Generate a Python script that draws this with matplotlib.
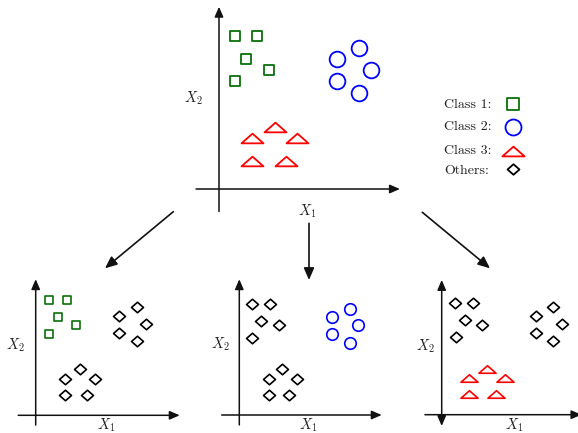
"""
One-vs-rest sketch: the full 3-class problem on top, three binary views below.
"""
import matplotlib
matplotlib.use("Agg")
import matplotlib.pyplot as plt
from matplotlib.patches import FancyArrowPatch
from matplotlib.path import Path

W, H = 578, 433
plt.rcParams["mathtext.fontset"] = "cm"

GREEN = "#0b700b"
BLUE = "#0000ff"
RED = "#ff0000"
INK = "#111111"

# --- data (local panel units) ---
# top panel: all classes
top_c1_x = [0.72, 1.70, 1.22, 2.22, 0.72]
top_c1_y = [6.80, 6.80, 5.78, 5.29, 4.78]
top_c2_x = [5.23, 6.24, 6.76, 5.23, 6.24]
top_c2_y = [5.76, 6.28, 5.28, 4.80, 4.28]
top_c3_x = [2.49, 1.48, 3.48, 1.48, 2.99]
top_c3_y = [2.77, 2.25, 2.25, 1.24, 1.24]

# class 1 vs rest
bl_c1_x = [0.75, 1.75, 1.25, 2.25, 0.75]
bl_c1_y = [6.75, 6.75, 5.73, 5.26, 4.77]
bl_rest_x = [5.61, 4.64, 6.13, 4.64, 5.61, 2.46, 1.64, 3.28, 1.64, 2.83]
bl_rest_y = [6.32, 5.79, 5.34, 4.82, 4.33, 2.71, 2.13, 2.13, 1.21, 1.21]

# class 2 vs rest
bm_c2_x = [5.21, 6.22, 6.69, 5.21, 6.22]
bm_c2_y = [5.71, 6.18, 5.25, 4.74, 4.23]
bm_rest_x = [0.73, 1.74, 1.24, 2.25, 0.73, 2.42, 1.67, 3.24, 1.67, 2.81]
bm_rest_y = [6.51, 6.51, 5.51, 5.26, 4.52, 2.69, 2.10, 2.10, 1.17, 1.17]

# class 3 vs rest
br_c3_x = [2.53, 1.55, 3.56, 1.55, 3.05]
br_c3_y = [2.69, 2.15, 2.15, 1.23, 1.23]
br_rest_x = [0.76, 1.78, 1.31, 2.28, 0.80, 6.27, 5.28, 6.78, 5.28, 6.27]
br_rest_y = [6.51, 6.51, 5.51, 5.26, 4.52, 6.27, 5.75, 5.30, 4.78, 4.29]

legend_labels = ["Class 1:", "Class 2:", "Class 3:", "Others:"]

# marker shapes
SQUARE = Path([(-1, -1), (1, -1), (1, 1), (-1, 1), (-1, -1)], closed=True)
TRI = Path([(-1, -0.44), (1, -0.44), (0, 0.44), (-1, -0.44)], closed=True)
DIAM = Path([(0, 0.88), (1, 0), (0, -0.88), (-1, 0), (0, 0.88)], closed=True)

fig = plt.figure(figsize=(W / 100, H / 100), dpi=100)
fig.patch.set_facecolor("white")

# overlay in pixel coords for the labels, legend and connecting arrows
ov = fig.add_axes([0, 0, 1, 1])
ov.set_xlim(0, W)
ov.set_ylim(H, 0)
ov.axis("off")


def _arrow(ax, p1, p2, style="-|>", ms=10, lw=1.1):
    ax.add_patch(FancyArrowPatch(
        p1, p2, arrowstyle=f"{style},head_length=0.6,head_width=0.26",
        mutation_scale=ms, lw=lw, color=INK, shrinkA=0, shrinkB=0,
        clip_on=False,
    ))


def panel(ox, oy, sx, sy, xr, yr, both=False):
    pad = 0.3
    xl = (xr[0] - pad, xr[1] + pad)
    yl = (yr[0] - pad, yr[1] + pad)
    ax = fig.add_axes([(ox + xl[0] * sx) / W, (H - oy + yl[0] * sy) / H,
                       (xl[1] - xl[0]) * sx / W, (yl[1] - yl[0]) * sy / H])
    ax.set_xlim(xl)
    ax.set_ylim(yl)
    ax.axis("off")
    _arrow(ax, (xr[0], 0), (xr[1], 0))
    _arrow(ax, (0, yr[0]), (0, yr[1]), style="<|-|>" if both else "-|>")
    return ax


def pts(ax, x, y, marker, ms, color, mew=1.3):
    ax.plot(x, y, ls="none", marker=marker, ms=ms, mfc="none",
            mec=color, mew=mew, clip_on=False)


# top panel
ax = panel(219, 189, 22.5, 22.5, (-1.02, 8.04), (-1.0, 8.1))
pts(ax, top_c1_x, top_c1_y, SQUARE, 7.8, GREEN)
pts(ax, top_c2_x, top_c2_y, "o", 11.3, BLUE)
pts(ax, top_c3_x, top_c3_y, TRI, 15.8, RED)

# bottom row
ax = panel(35.7, 415.3, 18, 17.1, (-0.97, 8.0), (-0.57, 7.96))
pts(ax, bl_c1_x, bl_c1_y, SQUARE, 5.7, GREEN, 1.2)
pts(ax, bl_rest_x, bl_rest_y, DIAM, 8.6, "black", 1.2)

ax = panel(239.3, 415, 17.8, 17.1, (-0.99, 8.0), (-0.58, 7.94))
pts(ax, bm_c2_x, bm_c2_y, "o", 8.3, BLUE, 1.2)
pts(ax, bm_rest_x, bm_rest_y, DIAM, 8.6, "black", 1.2)

ax = panel(441.7, 414.7, 17.8, 17.1, (-0.94, 7.85), (-0.66, 7.88), both=True)
pts(ax, br_c3_x, br_c3_y, TRI, 12.3, RED, 1.2)
pts(ax, br_rest_x, br_rest_y, DIAM, 8.6, "black", 1.2)

# axis labels
for x, y, s in [(306.7, 211, "$X_1$"), (193.3, 98, "$X_2$"),
                (15, 345, "$X_2$"), (106, 425.5, "$X_1$"),
                (220.7, 344, "$X_2$"), (308.3, 425.5, "$X_1$"),
                (425, 346, "$X_2$"), (514, 425.5, "$X_1$")]:
    ov.text(x, y, s, ha="center", va="center", fontsize=10.5, color="#222222")

# legend
leg_y = [104.5, 127.3, 150.5, 170.5]
leg_marks = [(SQUARE, 8, GREEN, 104), ("o", 11.5, BLUE, 126.7),
             (TRI, 16, RED, 150.5), (DIAM, 8.6, "black", 168.5)]
for lab, ly, (m, ms, c, my) in zip(legend_labels, leg_y, leg_marks):
    ov.text(444, ly, lab, family="cmr10", ha="left", va="center",
            fontsize=10, color="#222222")
    ov.plot([512.5], [my], ls="none", marker=m, ms=ms, mfc="none",
            mec=c, mew=1.3)

# arrows from the full problem to each binary problem
_arrow(ov, (173.3, 211.7), (105, 268.3), ms=12, lw=1.2)
_arrow(ov, (309, 223.3), (309, 280), ms=12, lw=1.2)
_arrow(ov, (422.3, 212.3), (490, 268.3), ms=12, lw=1.2)

fig.savefig("out.png", dpi=100, facecolor="white")
